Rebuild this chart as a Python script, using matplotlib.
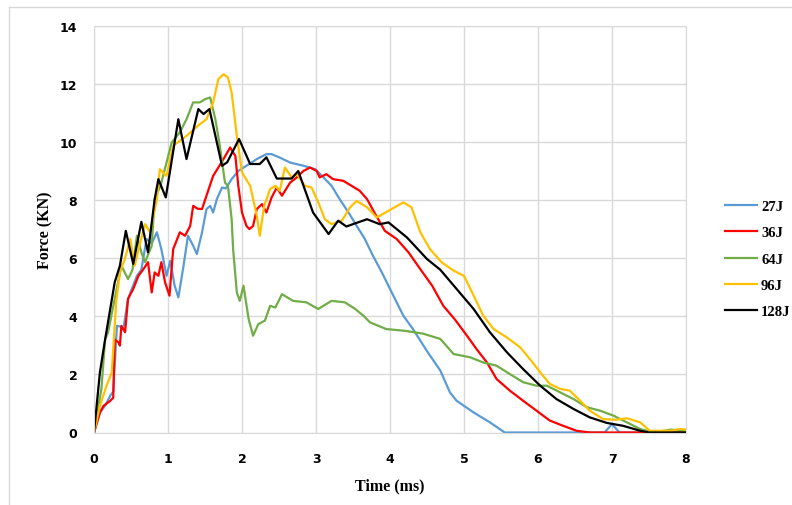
import matplotlib
matplotlib.use("Agg")
import matplotlib.pyplot as plt
from matplotlib.lines import Line2D

# Force-time curves
t27 = [0, 0.08, 0.15, 0.22, 0.26, 0.31, 0.4, 0.46, 0.52, 0.58, 0.64, 0.71, 0.78, 0.85, 0.91, 0.98,
       1.03, 1.09, 1.14, 1.21, 1.27, 1.34, 1.39, 1.46, 1.52, 1.57, 1.61, 1.66, 1.73, 1.78, 1.86, 1.95,
       2.06, 2.2, 2.33, 2.4, 2.52, 2.65, 2.83, 2.99, 3.1, 3.21, 3.32, 3.44, 3.55, 3.66, 3.77, 3.89,
       4.0, 4.09, 4.18, 4.31, 4.5, 4.68, 4.81, 4.9, 5.13, 5.35, 5.55, 6.9, 7.0, 7.1, 8.0]
f27 = [0, 0.69, 0.92, 1.27, 1.4, 3.67, 3.62, 4.6, 5.0, 5.39, 5.6, 6.66, 6.5, 6.89, 6.31, 5.39,
       5.91, 5.05, 4.65, 5.74, 6.77, 6.43, 6.14, 6.89, 7.69, 7.8, 7.57, 8.03, 8.43, 8.4, 8.72, 9.0,
       9.18, 9.41, 9.58, 9.58, 9.45, 9.29, 9.18, 9.06, 8.78, 8.49, 8.03, 7.57, 7.11, 6.66, 6.08, 5.51,
       4.94, 4.48, 4.02, 3.56, 2.8, 2.13, 1.38, 1.09, 0.69, 0.35, 0, 0, 0.29, 0, 0]

t36 = [0, 0.08, 0.13, 0.22, 0.26, 0.28, 0.33, 0.35, 0.37, 0.42, 0.46, 0.53, 0.6, 0.67, 0.73, 0.78,
       0.82, 0.87, 0.91, 0.96, 1.02, 1.07, 1.16, 1.23, 1.3, 1.34, 1.4, 1.46, 1.52, 1.61, 1.68, 1.75,
       1.84, 1.91, 1.95, 2.0, 2.06, 2.1, 2.15, 2.2, 2.27, 2.33, 2.4, 2.47, 2.54, 2.65, 2.74, 2.83,
       2.92, 3.01, 3.05, 3.14, 3.23, 3.37, 3.48, 3.59, 3.69, 3.8, 3.93, 4.09, 4.25, 4.41, 4.57, 4.72,
       4.88, 5.04, 5.17, 5.31, 5.44, 5.62, 5.8, 5.98, 6.16, 6.34, 6.52, 6.7, 7.9, 8.0]
f36 = [0, 0.69, 0.92, 1.09, 1.2, 3.2, 3.1, 2.99, 3.67, 3.45, 4.6, 4.94, 5.39, 5.63, 5.86, 4.82,
       5.51, 5.39, 5.86, 5.17, 4.71, 6.31, 6.89, 6.77, 7.11, 7.8, 7.7, 7.69, 8.15, 8.83, 9.12, 9.41,
       9.81, 9.52, 8.49, 7.57, 7.11, 7.0, 7.11, 7.69, 7.86, 7.57, 8.09, 8.43, 8.15, 8.6, 8.78, 9.0,
       9.12, 9.0, 8.78, 8.89, 8.72, 8.66, 8.49, 8.32, 8.03, 7.52, 6.94, 6.66, 6.2, 5.62, 5.05, 4.36,
       3.88, 3.33, 2.87, 2.41, 1.84, 1.44, 1.09, 0.75, 0.41, 0.23, 0.06, 0, 0, 0.05]

t64 = [0, 0.06, 0.1, 0.15, 0.19, 0.28, 0.37, 0.46, 0.52, 0.58, 0.64, 0.69, 0.78, 0.82, 0.9, 1.05,
       1.16, 1.25, 1.34, 1.43, 1.5, 1.57, 1.64, 1.7, 1.77, 1.81, 1.86, 1.88, 1.93, 1.97, 2.02, 2.09,
       2.15, 2.22, 2.31, 2.38, 2.45, 2.54, 2.69, 2.87, 3.03, 3.21, 3.39, 3.53, 3.64, 3.73, 3.95, 4.2,
       4.45, 4.68, 4.86, 5.08, 5.26, 5.44, 5.62, 5.8, 5.98, 6.12, 6.3, 6.48, 6.66, 6.84, 7.02, 7.2,
       7.38, 7.56, 7.8, 8.0]
f64 = [0, 0.92, 1.5, 3.2, 3.45, 4.6, 5.74, 5.28, 5.6, 6.77, 6.2, 5.86, 6.43, 8.03, 8.5, 9.98,
       10.33, 10.78, 11.36, 11.36, 11.47, 11.53, 10.78, 9.87, 8.6, 8.49, 7.34, 6.31, 4.82, 4.53, 5.05, 3.9,
       3.33, 3.73, 3.85, 4.36, 4.3, 4.76, 4.53, 4.48, 4.25, 4.53, 4.48, 4.25, 4.02, 3.79, 3.56, 3.5,
       3.4, 3.22, 2.7, 2.59, 2.41, 2.3, 2.01, 1.73, 1.61, 1.61, 1.38, 1.15, 0.87, 0.75, 0.58, 0.35,
       0.12, 0, 0.1, 0.05]

t96 = [0, 0.08, 0.17, 0.24, 0.3, 0.35, 0.42, 0.49, 0.55, 0.62, 0.69, 0.76, 0.85, 0.89, 0.98, 1.07,
       1.25, 1.43, 1.52, 1.61, 1.68, 1.75, 1.81, 1.86, 1.93, 2.0, 2.11, 2.2, 2.24, 2.3, 2.38, 2.45,
       2.51, 2.58, 2.67, 2.74, 2.85, 2.94, 3.03, 3.12, 3.21, 3.35, 3.46, 3.55, 3.69, 3.82, 3.98, 4.18,
       4.29, 4.41, 4.54, 4.7, 4.86, 5.0, 5.13, 5.26, 5.4, 5.58, 5.76, 5.89, 6.03, 6.16, 6.3, 6.43,
       6.57, 6.7, 6.88, 7.06, 7.2, 7.38, 7.51, 7.8, 7.92, 8.0]
f96 = [0, 0.92, 1.61, 2.07, 4.5, 5.51, 6.0, 6.66, 5.74, 6.5, 7.17, 6.89, 8.03, 9.06, 8.83, 9.87,
       10.21, 10.61, 10.78, 11.36, 12.16, 12.33, 12.22, 11.7, 10.21, 8.95, 8.49, 7.46, 6.77, 7.8, 8.38, 8.49,
       8.32, 9.12, 8.78, 8.89, 8.49, 8.43, 7.92, 7.34, 7.17, 7.29, 7.75, 7.97, 7.75, 7.4, 7.63, 7.92,
       7.75, 6.89, 6.31, 5.85, 5.57, 5.39, 4.71, 4.02, 3.56, 3.27, 2.93, 2.53, 2.07, 1.67, 1.5, 1.44,
       1.09, 0.75, 0.46, 0.44, 0.49, 0.35, 0.06, 0.06, 0.12, 0.1]

t128 = [0, 0.08, 0.15, 0.28, 0.35, 0.43, 0.53, 0.64, 0.73, 0.82, 0.87, 0.97, 1.14, 1.25, 1.41, 1.48,
        1.56, 1.73, 1.8, 1.96, 2.11, 2.24, 2.33, 2.47, 2.67, 2.76, 2.96, 3.17, 3.3, 3.41, 3.69, 3.86,
        3.98, 4.23, 4.5, 4.68, 4.9, 5.13, 5.35, 5.58, 5.8, 6.03, 6.25, 6.48, 6.7, 6.93, 7.15, 7.38,
        7.5, 8.0]
f128 = [0, 2.07, 3.2, 5.17, 5.74, 6.94, 5.8, 7.25, 6.2, 8.03, 8.72, 8.09, 10.78, 9.41, 11.13, 10.96,
        11.13, 9.18, 9.3, 10.1, 9.24, 9.24, 9.47, 8.74, 8.74, 9.0, 7.57, 6.83, 7.29, 7.09, 7.34, 7.17,
        7.23, 6.71, 5.97, 5.6, 4.94, 4.25, 3.45, 2.76, 2.18, 1.61, 1.15, 0.81, 0.52, 0.33, 0.23, 0.06,
        0, 0]

labels = ['27J', '36J', '64J', '96J', '128J']
colors = ['#5B9BD5', '#FF0000', '#70AD47', '#FFC000', '#000000']

fig = plt.figure(figsize=(7.92, 5.06), dpi=100)
ax = fig.add_axes([94 / 792, 1 - 433.5 / 506, 592 / 792, 406.8 / 506])

series = [(t27, f27), (t36, f36), (t64, f64), (t96, f96), (t128, f128)]
for (t, f), lab, c in zip(series, labels, colors):
    ax.plot(t, f, color=c, lw=1.6, label=lab)

ax.set_xlim(0, 8)
ax.set_ylim(0, 14)
ax.set_xticks(range(0, 9))
ax.set_yticks(range(0, 15, 2))
ax.grid(True, color='#d9d9d9', lw=1)
ax.set_axisbelow(True)
for s in ax.spines.values():
    s.set_color('#d9d9d9')
ax.tick_params(length=0, labelsize=9)
ax.tick_params(axis='y', pad=12)
ax.tick_params(axis='x', pad=14)
for lbl in ax.get_xticklabels() + ax.get_yticklabels():
    lbl.set_fontweight('bold')

ax.set_xlabel('Time (ms)', family='Liberation Serif', fontweight='bold', fontsize=11.5)
ax.set_ylabel('Force (KN)', family='Liberation Serif', fontweight='bold', fontsize=11.5)
ax.xaxis.set_label_coords(0.5, -0.11)
ax.yaxis.set_label_coords(-0.068, 0.5)

leg = fig.legend(loc='center left', bbox_to_anchor=(718 / 792, 1 - 260 / 506), frameon=False,
                 borderpad=0, handlelength=2.2, handletextpad=0.25, labelspacing=0.9,
                 prop={'family': 'Liberation Serif', 'weight': 'bold', 'size': 10.5})

# light outer frame (top and left edges)
fig.add_artist(Line2D([9 / 792, 9 / 792], [0, 1 - 8 / 506], color='#d9d9d9', lw=1))
fig.add_artist(Line2D([9 / 792, 1], [1 - 8 / 506, 1 - 8 / 506], color='#d9d9d9', lw=1))

fig.savefig('out.png', dpi=100)
